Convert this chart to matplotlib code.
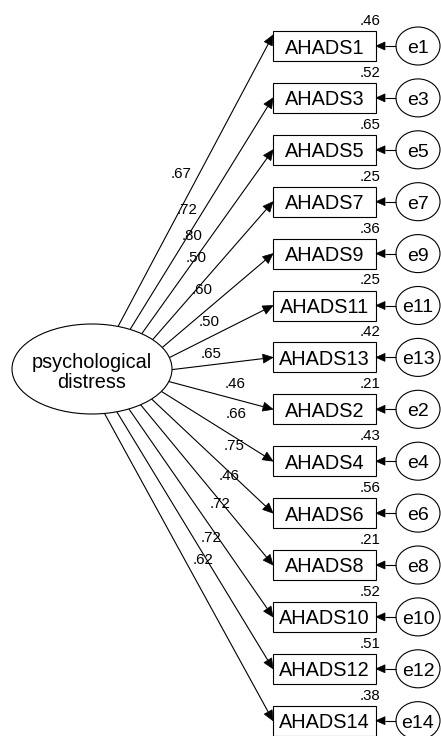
import numpy as np
import matplotlib
matplotlib.use("Agg")
import matplotlib.pyplot as plt
from matplotlib.patches import Ellipse, Rectangle, Polygon

# ---------------- data ----------------
latent = ["psychological", "distress"]
items = ["AHADS1", "AHADS3", "AHADS5", "AHADS7", "AHADS9", "AHADS11", "AHADS13",
         "AHADS2", "AHADS4", "AHADS6", "AHADS8", "AHADS10", "AHADS12", "AHADS14"]
errors = ["e1", "e3", "e5", "e7", "e9", "e11", "e13",
          "e2", "e4", "e6", "e8", "e10", "e12", "e14"]
loadings = [".67", ".72", ".80", ".50", ".60", ".50", ".65",
            ".46", ".66", ".75", ".46", ".72", ".72", ".62"]
r_squared = [".46", ".52", ".65", ".25", ".36", ".25", ".42",
             ".21", ".43", ".56", ".21", ".52", ".51", ".38"]

# ---------------- layout (pixels) ----------------
W, H = 441, 736
box_x0, box_w, box_h = 273, 103, 30
row0, row_step = 46, 51.9
err_cx, err_w, err_h = 418, 44, 38
lat_cx, lat_cy, lat_w, lat_h = 92, 369, 160, 90
theta_top, theta_bot = 71.0, -81.0
tip_dy = [-11, 0, 0, 0, 0, 0, 0, 0, 0, 0, 0, 0, 0, 0]
loading_label_xy = [(181, 172), (187, 208), (192, 235), (196, 256), (202, 288),
                    (209, 320), (211, 353), (235, 383), (236, 412), (234, 445),
                    (229, 475), (220, 503), (211, 537), (203, 559)]

FONT = "Liberation Sans"
LW = 0.8

fig = plt.figure(figsize=(W / 100, H / 100), dpi=100)
ax = fig.add_axes([0, 0, 1, 1])
ax.set_xlim(0, W)
ax.set_ylim(H, 0)
ax.axis("off")


def arrow(ax, start, tip, head_len=10, head_hw=4.5):
    s = np.array(start, float)
    t = np.array(tip, float)
    u = (t - s) / np.linalg.norm(t - s)
    n = np.array([-u[1], u[0]])
    base = t - head_len * u
    ax.plot([s[0], base[0]], [s[1], base[1]], color="black", lw=LW,
            solid_capstyle="butt")
    ax.add_patch(Polygon([t, base + head_hw * n, base - head_hw * n],
                         closed=True, facecolor="black", edgecolor="black", lw=0.5))


# latent ellipse
ax.add_patch(Ellipse((lat_cx, lat_cy), lat_w, lat_h, facecolor="white",
                     edgecolor="black", lw=LW, zorder=3))
ax.text(lat_cx, lat_cy - 0.7, latent[0], ha="center", va="baseline",
        fontsize=14.3, family=FONT, zorder=4)
ax.text(lat_cx, lat_cy + 18.7, latent[1], ha="center", va="baseline",
        fontsize=14.3, family=FONT, zorder=4)

# start points evenly spaced by arc length on the ellipse
a, b = lat_w / 2, lat_h / 2
th = np.radians(np.linspace(theta_top, theta_bot, 2000))
speed = np.sqrt((a * np.sin(th)) ** 2 + (b * np.cos(th)) ** 2)
arc = np.concatenate([[0], np.cumsum(0.5 * (speed[1:] + speed[:-1]) * np.abs(np.diff(th)))])
targets = np.linspace(0, arc[-1], len(items))
th_pts = np.interp(targets, arc, th)

for i, name in enumerate(items):
    cy = row0 + i * row_step
    # indicator box
    ax.add_patch(Rectangle((box_x0, cy - box_h / 2), box_w, box_h,
                           facecolor="white", edgecolor="black", lw=LW))
    ax.text(box_x0 + box_w / 2, cy + 7.5, name, ha="center", va="baseline",
            fontsize=14.3, family=FONT)
    # R squared
    ax.text(370, cy - 21, r_squared[i], ha="center", va="baseline",
            fontsize=10.8, family=FONT)
    # error circle
    ax.add_patch(Ellipse((err_cx, cy), err_w, err_h, facecolor="white",
                         edgecolor="black", lw=LW))
    ax.text(err_cx, cy + 7, errors[i], ha="center", va="baseline",
            fontsize=14, family=FONT)
    arrow(ax, (err_cx - err_w / 2, cy), (box_x0 + box_w, cy), head_len=9, head_hw=4)
    # loading path
    sx = lat_cx + a * np.cos(th_pts[i])
    sy = lat_cy - b * np.sin(th_pts[i])
    arrow(ax, (sx, sy), (box_x0, cy + tip_dy[i]))
    lx, ly = loading_label_xy[i]
    ax.text(lx, ly + 5.5, loadings[i], ha="center", va="baseline",
            fontsize=10.8, family=FONT)

fig.savefig("out.png", dpi=100)
